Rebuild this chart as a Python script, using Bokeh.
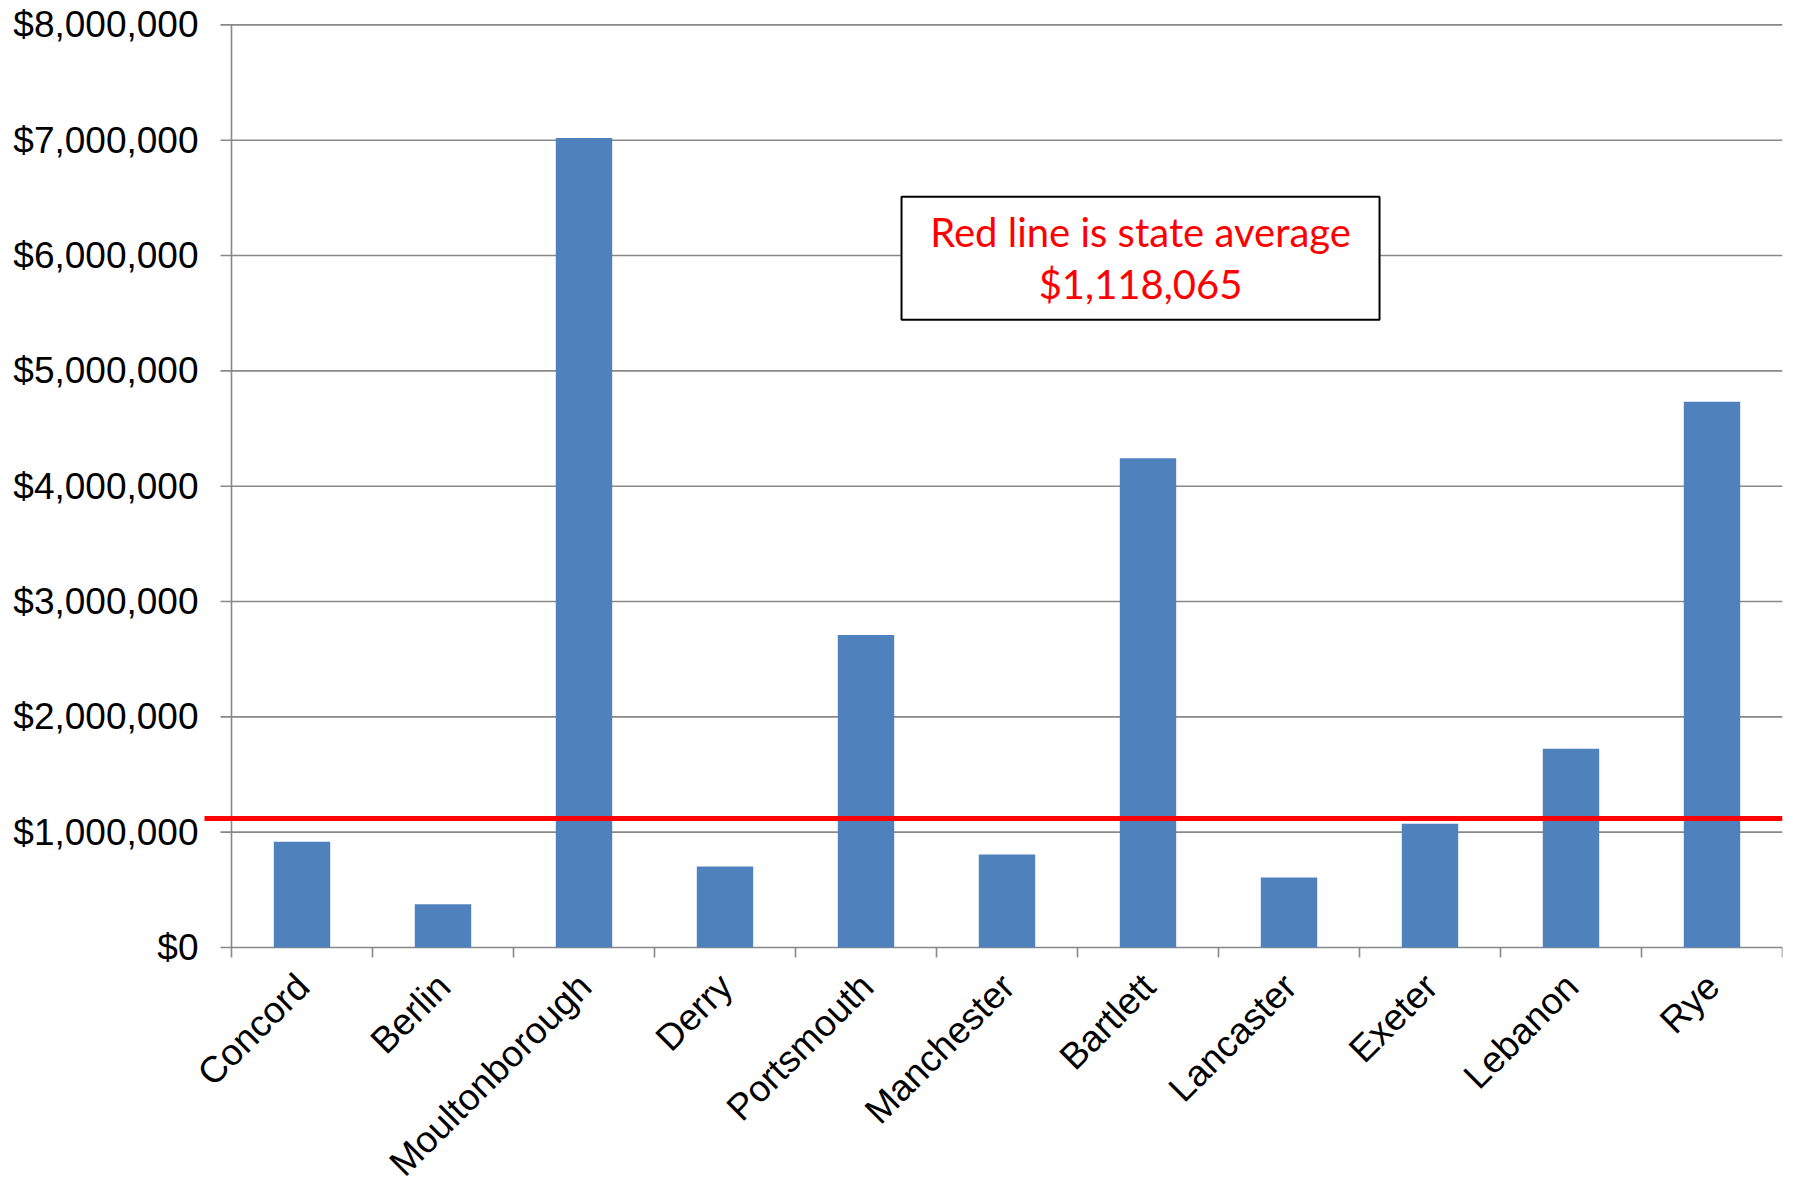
from bokeh.plotting import figure
from bokeh.models import Range1d, Label
from bokeh.core.properties import value
from bokeh.embed import file_html
from bokeh.resources import INLINE
import math

# Per-town values (dollars)
towns = ["Concord", "Berlin", "Moultonborough", "Derry", "Portsmouth", "Manchester",
         "Bartlett", "Lancaster", "Exeter", "Lebanon", "Rye"]
amounts = [917000, 376000, 7020000, 703000, 2709000, 807000,
           4243000, 608000, 1073000, 1723000, 4731000]
state_average = 1118065
y_ticks = [0, 1000000, 2000000, 3000000, 4000000, 5000000, 6000000, 7000000, 8000000]
y_tick_labels = ["${:,}".format(v) for v in y_ticks]

note_line1 = "Red line is state average"
note_line2 = "${:,}".format(state_average)

GRID = "#888888"
BAR = "#4F81BD"
FONT = "Liberation Sans"

centers = list(range(len(towns)))
edges = [c - 0.5 for c in centers] + [centers[-1] + 0.5]

# Whole page is the plot frame; axes are drawn by hand so that rotated
# category names and value labels can sit anywhere on the page.
px_per_dollar = 115.33 / 1e6   # vertical scale
px_per_cat = 141.0             # horizontal scale
unit = 1 / px_per_dollar       # dollars per pixel
y_lo = -237 * unit
y_hi = 947 * unit
x_lo = edges[0] - 231 / px_per_cat
x_hi = edges[-1]

p = figure(width=1805, height=1184, output_backend="svg", toolbar_location=None,
           x_range=Range1d(x_lo, x_hi), y_range=Range1d(y_lo, y_hi),
           min_border_left=0, min_border_right=23, min_border_top=0,
           min_border_bottom=0)
p.outline_line_color = None
p.grid.visible = False
p.axis.visible = False
p.background_fill_color = "white"
p.border_fill_color = "white"

# horizontal gridlines with short outward ticks left of the value axis
tick_start = edges[0] - 11 / px_per_cat
p.segment(x0=[tick_start] * len(y_ticks), x1=[edges[-1]] * len(y_ticks),
          y0=y_ticks, y1=y_ticks, line_color=GRID, line_width=1.6)
# vertical value-axis line
p.segment(x0=[edges[0]], x1=[edges[0]], y0=[0], y1=[y_ticks[-1]],
          line_color=GRID, line_width=1.6)
# category boundary ticks below the zero line
p.segment(x0=edges, x1=edges, y0=[0] * len(edges), y1=[-10 * unit] * len(edges),
          line_color=GRID, line_width=1.6)

# value labels
p.text(x=[edges[0] - 33 / px_per_cat] * len(y_ticks), y=y_ticks, text=y_tick_labels,
       text_align="right", text_baseline="middle",
       text_font=value(FONT), text_font_size="37px", text_color="black")

p.vbar(x=centers, top=amounts, width=0.4, fill_color=BAR, line_color=None)

# category names, rotated 45 degrees
p.text(x=[c + 1 / px_per_cat for c in centers], y=[-285000] * len(centers), text=towns,
       angle=math.pi / 4, text_align="right", text_baseline="middle",
       text_font=value(FONT), text_font_size="37px", text_color="black")

# state average line, reaching a little past the value axis
p.segment(x0=[edges[0] - 27 / px_per_cat], x1=[edges[-1]],
          y0=[state_average], y1=[state_average],
          line_color="#FF0000", line_width=5)

# note box
box_x = 5.947
p.rect(x=[box_x], y=[5977000], width=478, height=123,
       width_units="screen", height_units="screen",
       fill_color="white", line_color="black", line_width=2)
for txt, yy in ((note_line1, 6200000), (note_line2, 5750000)):
    p.add_layout(Label(x=box_x, y=yy, text=txt, text_align="center",
                       text_baseline="alphabetic", text_color="#FF0000",
                       text_font="Lato", text_font_size="40px"))

open("out.html", "w").write(file_html(p, INLINE))
